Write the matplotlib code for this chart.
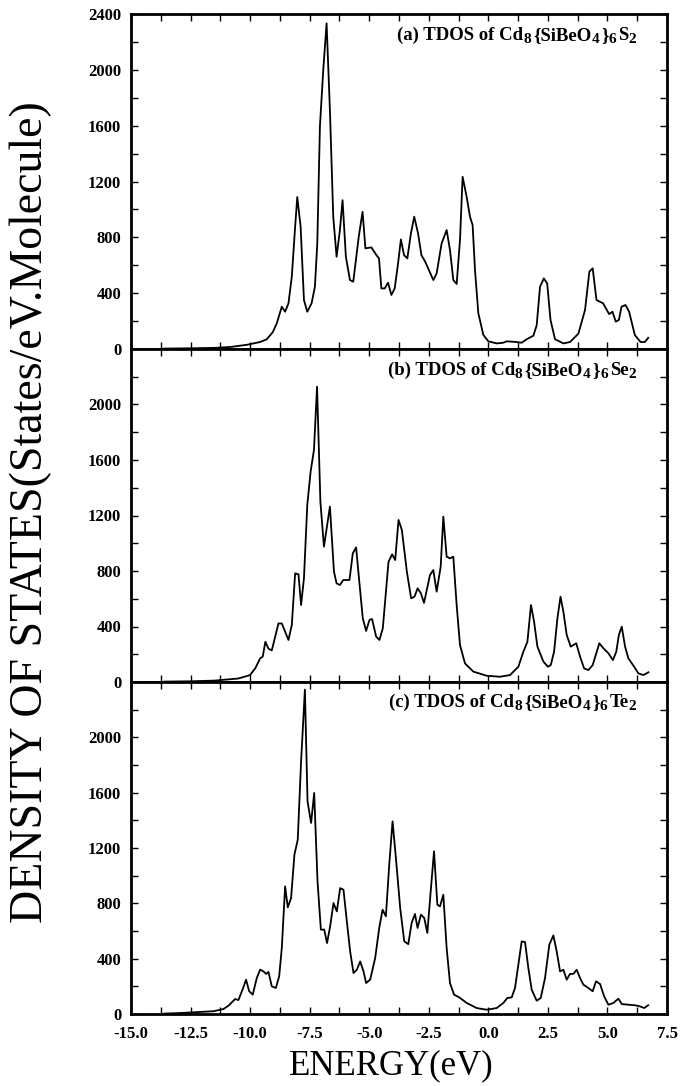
"""
tdos.py - total density of states for Cd8{SiBeO4}6X2 (X = S, Se, Te).
Writes: out.png
"""
import numpy as np
import matplotlib
matplotlib.use("Agg")
import matplotlib.pyplot as plt
from matplotlib.ticker import MultipleLocator

plt.rcParams.update({
    "font.family": "Liberation Serif",
})

# ---------------------------------------------------------------------------
# Data
# ---------------------------------------------------------------------------
E_A = [-13.6, -12.5, -11.5, -10.8, -10.14, -9.58, -9.30, -9.05, -8.88, -8.67,
       -8.53, -8.39, -8.25, -8.11, -8.02, -7.88, -7.74, -7.60, -7.42, -7.28,
       -7.18, -7.07, -6.93, -6.79, -6.65, -6.51, -6.37, -6.23, -6.12, -5.98,
       -5.81, -5.67, -5.44, -5.28, -5.16, -4.91, -4.70, -4.59, -4.49, -4.35,
       -4.21, -4.07, -3.93, -3.79, -3.67, -3.54, -3.40, -3.25, -3.11, -2.95,
       -2.81, -2.65, -2.31, -2.17, -1.96, -1.75, -1.61, -1.47, -1.33, -1.19,
       -1.08, -0.91, -0.77, -0.66, -0.56, -0.42, -0.21, 0.00, 0.35, 0.63,
       0.77, 1.19, 1.40, 1.61, 1.89, 2.03, 2.17, 2.33, 2.47, 2.61,
       2.80, 3.15, 3.43, 3.78, 4.06, 4.24, 4.38, 4.54, 4.68, 4.82,
       5.07, 5.21, 5.35, 5.48, 5.59, 5.76, 5.91, 6.15, 6.39, 6.57, 6.71]
DOS_A = [3, 5, 8, 15, 30, 50, 70, 120, 184, 303,
         267, 327, 518, 876, 1089, 876, 351, 267, 327, 446,
         757, 1593, 1998, 2333, 1712, 948, 661, 852, 1066, 661,
         494, 482, 804, 983, 721, 728, 673, 649, 434, 434,
         475, 387, 434, 613, 785, 673, 649, 828, 948, 828,
         673, 625, 494, 542, 757, 852, 709, 494, 466, 780,
         1234, 1090, 948, 888, 566, 256, 101, 55, 40, 45,
         55, 50, 45, 70, 95, 170, 446, 506, 470, 208,
         70, 40, 50, 110, 280, 554, 578, 351, 339, 327,
         250, 267, 196, 208, 303, 315, 267, 100, 50, 50, 80]

E_B = [-13.6, -12.5, -11.5, -10.5, -10.00, -9.78, -9.58, -9.47, -9.36, -9.23,
       -9.09, -8.81, -8.67, -8.39, -8.25, -8.11, -7.97, -7.86, -7.74, -7.60,
       -7.46, -7.32, -7.19, -7.05, -6.90, -6.65, -6.48, -6.37, -6.23, -6.09,
       -5.83, -5.69, -5.55, -5.43, -5.27, -5.13, -4.99, -4.88, -4.71, -4.57,
       -4.43, -4.19, -4.04, -3.91, -3.77, -3.63, -3.42, -3.24, -3.10, -2.97,
       -2.83, -2.70, -2.45, -2.31, -2.17, -2.00, -1.89, -1.75, -1.61, -1.47,
       -1.33, -1.19, -0.98, -0.63, -0.07, 0.49, 0.91, 1.26, 1.47, 1.64,
       1.79, 1.92, 2.06, 2.31, 2.50, 2.62, 2.76, 2.90, 3.03, 3.15,
       3.29, 3.46, 3.69, 3.85, 4.02, 4.20, 4.38, 4.66, 4.83, 5.04,
       5.23, 5.37, 5.48, 5.60, 5.74, 5.88, 6.09, 6.30, 6.51, 6.72]
DOS_B = [3, 5, 10, 25, 50, 100, 170, 183, 290, 240,
         228, 422, 422, 303, 411, 783, 776, 555, 747, 1276,
         1516, 1672, 2128, 1300, 975, 1264, 795, 711, 699, 735,
         735, 927, 970, 747, 459, 368, 447, 454, 327, 303,
         387, 867, 920, 879, 1168, 1096, 795, 603, 615, 675,
         639, 570, 771, 807, 651, 831, 1192, 903, 891, 903,
         555, 267, 134, 75, 45, 38, 50, 110, 218, 290,
         555, 435, 255, 147, 110, 122, 218, 459, 615, 507,
         339, 255, 279, 183, 98, 86, 122, 279, 243, 207,
         158, 218, 339, 399, 255, 170, 118, 62, 50, 70]

E_C = [-13.6, -12.94, -11.54, -11.12, -10.91, -10.63, -10.49, -10.31, -10.17, -10.04,
       -9.89, -9.72, -9.58, -9.44, -9.33, -9.23, -9.09, -8.92, -8.78, -8.67,
       -8.53, -8.42, -8.28, -8.14, -8.00, -7.86, -7.70, -7.59, -7.44, -7.31,
       -7.17, -7.03, -6.89, -6.77, -6.64, -6.50, -6.36, -6.22, -6.08, -5.94,
       -5.80, -5.66, -5.52, -5.38, -5.24, -5.13, -4.96, -4.75, -4.58, -4.44,
       -4.30, -4.16, -4.02, -3.88, -3.70, -3.53, -3.36, -3.22, -3.08, -2.97,
       -2.83, -2.69, -2.56, -2.42, -2.28, -2.14, -2.03, -1.89, -1.75, -1.61,
       -1.44, -1.22, -0.91, -0.49, -0.07, 0.35, 0.63, 0.80, 0.98, 1.12,
       1.26, 1.40, 1.54, 1.68, 1.82, 2.03, 2.20, 2.38, 2.56, 2.73,
       2.87, 3.01, 3.15, 3.29, 3.43, 3.57, 3.71, 3.85, 3.99, 4.20,
       4.38, 4.52, 4.69, 4.86, 5.04, 5.25, 5.46, 5.60, 5.88, 6.16,
       6.37, 6.54, 6.71]
DOS_C = [3, 7, 20, 36, 60, 108, 101, 180, 248, 165,
         140, 260, 321, 308, 290, 304, 200, 188, 272, 476,
         923, 771, 838, 1152, 1260, 1827, 2345, 1537, 1381, 1598,
         958, 610, 610, 513, 634, 802, 742, 910, 898, 670,
         452, 296, 320, 380, 308, 224, 248, 405, 622, 754,
         706, 1079, 1393, 1128, 766, 525, 505, 658, 723, 622,
         718, 694, 586, 886, 1176, 790, 778, 862, 477, 224,
         140, 120, 80, 43, 31, 43, 80, 116, 120, 188,
         356, 525, 520, 332, 176, 96, 116, 260, 501, 568,
         452, 308, 320, 248, 290, 290, 320, 260, 212, 188,
         164, 236, 217, 128, 67, 80, 111, 72, 67, 63,
         55, 43, 63]

# panel titles as (text, is_subscript) pieces
TITLE_A = [("(a) TDOS of Cd", False), ("8", True), ("{SiBeO", False), ("4", True),
           ("}", False), ("6", True), ("S", False), ("2", True)]
TITLE_B = [("(b) TDOS of Cd", False), ("8", True), ("{SiBeO", False), ("4", True),
           ("}", False), ("6", True), ("Se", False), ("2", True)]
TITLE_C = [("(c) TDOS of Cd", False), ("8", True), ("{SiBeO", False), ("4", True),
           ("}", False), ("6", True), ("Te", False), ("2", True)]
XTICKS = [-15.0, -12.5, -10.0, -7.5, -5.0, -2.5, 0.0, 2.5, 5.0, 7.5]

# ---------------------------------------------------------------------------
# Figure
# ---------------------------------------------------------------------------
W, H = 681, 1086
fig = plt.figure(figsize=(W / 100, H / 100), dpi=100)
renderer = fig.canvas.get_renderer()

left, right = 131 / W, 667 / W
edges = [14, 349, 682, 1014]          # panel top/bottom in pixels
series = [(E_A, DOS_A), (E_B, DOS_B), (E_C, DOS_C)]
titles = [TITLE_A, TITLE_B, TITLE_C]
title_base = [40, 375, 707]           # baseline of panel title, pixels
TITLE_FS = 13.5


def draw_title(pieces, x_right, y_base):
    """Right-aligned title with nearly full-size subscripts."""
    arts = []
    for txt, sub in pieces:
        fs = TITLE_FS * (0.82 if sub else 1.0)
        t = fig.text(0, 0, txt, fontsize=fs, fontweight="bold",
                     ha="left", va="baseline")
        w = t.get_window_extent(renderer).width + (2 if sub else 0)
        arts.append((t, sub, w))
    total = sum(w for _, _, w in arts)
    x = x_right - total
    for t, sub, w in arts:
        y = y_base + (3 if sub else 0)
        t.set_position((x / W, 1 - y / H))
        x += w


for i, (e, d) in enumerate(series):
    top, bot = edges[i], edges[i + 1]
    ax = fig.add_axes([left, 1 - bot / H, right - left, (bot - top) / H])
    ax.plot(e, d, color="black", lw=1.3)
    ax.set_xlim(-15, 7.5)
    ax.set_ylim(0, 2400)

    ax.xaxis.set_major_locator(MultipleLocator(2.5))
    ax.xaxis.set_minor_locator(MultipleLocator(1.25))
    ax.tick_params(which="both", direction="in", top=True, right=True,
                   width=1.0, labelsize=12)
    ax.tick_params(which="major", length=5)
    ax.tick_params(which="minor", length=5)
    ax.tick_params(axis="y", pad=7)
    ax.tick_params(axis="x", pad=9)
    for sp in ax.spines.values():
        sp.set_linewidth(2.0)

    if i == 0:
        yt = [0, 400, 800, 1200, 1600, 2000, 2400]
    else:
        yt = [0, 400, 800, 1200, 1600, 2000]
    ax.set_yticks(yt)
    ax.set_yticklabels([str(v) for v in yt], fontweight="bold")
    ax.set_yticks([200, 600, 1000, 1400, 1800, 2200, 2400], minor=True)

    if i == 2:
        ax.set_xticks(XTICKS)
        ax.set_xticklabels([f"{v:.1f}" for v in XTICKS], fontweight="bold")
    else:
        ax.tick_params(axis="x", labelbottom=False)

    draw_title(titles[i], 638, title_base[i])

fig.text(31 / W, 1 - 512 / H, "DENSITY OF STATES(States/eV.Molecule)",
         rotation=90, ha="center", va="center", fontsize=33)
fig.text(391 / W, 1 - 1066 / H, "ENERGY(eV)",
         ha="center", va="center", fontsize=25)

fig.savefig("out.png", dpi=100)
